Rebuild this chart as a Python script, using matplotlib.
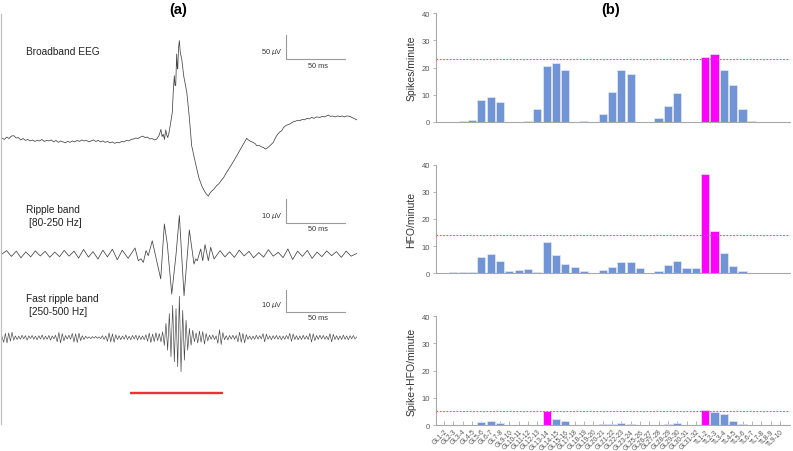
import numpy as np
import matplotlib
matplotlib.use("Agg")
import matplotlib.pyplot as plt

plt.rcParams['font.family'] = ['Liberation Sans', 'DejaVu Sans']
plt.rcParams['mathtext.fontset'] = 'dejavusans'

# ---------------- panel (a): example traces ----------------
# broadband EEG, time (ms) / amplitude (uV)
bb_t = [0, 2, 4, 6, 8, 10, 12, 14, 16, 18, 20, 22, 24, 26, 28, 30, 32, 34, 36, 38,
        40, 42, 44, 46, 48, 50, 52, 54, 56, 58, 60, 62, 64, 66, 68, 70, 72, 74, 76, 78,
        80, 82, 84, 86, 88, 90, 92, 94, 96, 98, 100, 102, 104, 106, 108, 110, 112, 114,
        116, 118, 120, 122, 124, 126, 128, 130, 132, 134, 135.5, 136.5, 137.5, 138.5,
        139.6, 140.5, 141.3, 142.3, 143.2, 144.2, 145.2, 146, 146.9, 147.5, 148.1, 148.9,
        149.4, 149.8, 150.5, 151.2, 152, 153.2, 155, 157.5, 159.5, 161.7, 164, 166, 168,
        170.2, 172, 174, 175.9, 177.5, 179, 180.5, 182, 183, 185, 187, 189, 191.6, 194,
        196, 198, 200.1, 202, 204, 206, 208.6, 210, 212, 214, 216, 217.1, 219, 221, 223,
        224.8, 226.5, 228, 230, 231.3, 233, 235, 237, 238.4, 240, 242, 244, 246, 248.3,
        250, 252, 254, 256, 258, 259.8, 262, 264, 266, 268, 271.1, 273, 275, 278.2, 280,
        282, 284, 286, 288.2, 290, 292, 294, 296.7, 299, 302.4]
bb_v = [2, -1, 4, 1, 6, 7, 2, 3, -2, 1, -3, -1, -4, -2, -5, -3, -4, -1, -5, -3,
        -4, -2, -6, -3, -7, -4, -6, -8, -5, -7, -4, -6, -3, -5, -2, -4, -3, -6, -4, -2,
        -5, -3, -6, -4, -7, -5, -8, -6, -9, -7, -8, -5, -6, -3, -4, -1, 0, 2,
        1, 4, 6, 3, 4, 0, 1, -2, 0, 8, 20, 5, 10, -1,
        19, 8, 3, 12, 25, 40, 56, 98, 132, 112, 111, 177,
        150, 146, 190, 205, 180, 167, 130, 98, 50, -14, -40, -62, -82,
        -97, -106, -114, -119, -112, -108, -105, -100, -97, -93, -86, -80, -69, -60,
        -52, -44, -35, -27, -18, -10, 1.5, -2, -5, -7, -10, -14, -13, -16, -18,
        -21, -18, -15, -10, -7, 2, 10, 15, 17, 24, 28, 30, 32, 36,
        37, 39, 38, 41, 40, 43, 42, 45, 43, 46, 45, 47, 46, 50, 47,
        48, 46, 48, 46.5, 48, 46, 48, 47, 44, 40]

# ripple band (80-250 Hz), turning points, time (ms) / amplitude (uV)
rp_t = [0, 3.9, 8.0, 12.2, 16.1, 20.3, 24.5, 28.4, 32.6, 36.8, 40.7, 44.9, 49.1, 53.0,
        57.2, 61.4, 65.3, 69.5, 73.7, 77.6, 81.8, 86.0, 89.9, 94.1, 98.3, 102.5, 107.5,
        113.4, 116.2, 118.5, 120.5, 122.8, 124.7, 128.1, 135.3, 138.4, 140.9, 144.7,
        148.4, 151.2, 155.2, 159.7, 163.7, 165.2, 166.5, 169.4, 171.1, 173.1, 175.9,
        177.9, 180.8, 185.9, 190.0, 194.0, 198.1, 202.3, 206.4, 210.6, 214.5, 218.9,
        223.0, 227.1, 231.2, 235.5, 239.6, 243.7, 247.8, 252.0, 256.1, 260.3, 264.4,
        268.6, 272.7, 276.8, 281.0, 285.1, 289.3, 293.4, 297.6, 302.4]
rp_v = [0, 1.4, -1.0, 1.2, -1.6, 0.9, -1.2, 1.3, -0.8, 1.1, -1.4, 0.8, -1.1, 1.5,
        -0.9, 1.2, -1.7, 1.9, -1.3, 1.0, -2.1, 1.6, -1.2, 2.0, -2.4, 1.6, -1.8,
        2.5, -2.8, -2.0, -3.5, 1.4, -0.7, 5.5, -10.4, 12.5, 4.2, -16.7,
        0.0, 16.0, -17.4, 10.0, -4.2, -2.0, -2.8, 2.1, -2.8, 3.9, -2.8,
        2.8, -2.1, 1.4, -1.2, 0.9, -1.4, 1.6, -0.8, 1.1, -1.6, 0.6,
        -1.3, 1.8, -0.9, 0.7, -1.5, 2.1, -2.3, 1.2, -1.0, 1.5, -1.8,
        0.8, -1.1, 1.3, -0.7, 1.0, -1.4, 1.2, -0.9, 0.2]

# fast ripple band (250-500 Hz), one value per half cycle (uV)
fr_v = [0.4, -2.1, 1.8, -2.4, 2.0, -1.6, 2.3, -1.2,
        0.7, -0.9, 0.6, -0.8, 1.0, -0.6, 0.8, -1.1, 0.7, -0.5, 0.9, -0.8, 0.6, -1.0,
        0.8, -0.7, 1.1, -0.9, 0.6, -0.8, 0.9, -1.2, 0.7, -0.6, 1.0,
        -1.9, 2.2, -2.4, 1.7, -1.5,
        0.9, -0.7, 1.0, -0.8,
        1.8, -2.0, 1.6, -2.2, 1.9, -1.4,
        0.8, -0.9, 0.6,
        -0.4, 0.3, -0.5, 0.4, -0.3, 0.5, -0.4, 0.3, -0.5,
        0.8, -0.9, 0.7,
        -1.7, 2.0, -1.9, 1.6, -2.1, 1.2,
        -0.9, 0.8, -1.0, 0.7, -0.8, 1.1, -0.9, 0.6, -1.0, 0.9, -0.7, 1.0, -1.1, 0.8,
        -0.9, 0.7, -1.0, 1.2,
        -1.6, 1.9, -2.2, 1.5, -1.8, 2.1, -1.4, 1.7, -1.9,
        2.5, -3.5, 6.2, -5.6, 10.6, -8.5, 14.2, -10.7, 12.8, -12.9, 18.2, -15.1,
        12.0, -10.0, 7.6, -5.6, 4.0, -3.4, 3.2, -1.9, 2.0,
        -2.4, 2.8, -2.1, 2.6, -2.9, 1.8, -1.5,
        1.0, -0.8, 1.1, -0.9, 0.7,
        -2.6, 3.4, -3.1, 2.2,
        -1.0, 0.8, -1.1, 0.9, -0.7, 1.0, -0.8, 0.9,
        -1.9, 2.3, -2.1, 1.8, -2.4, 1.3,
        -0.8, 0.7, -0.9, 0.6, -0.8, 1.0, -0.7, 0.8, -0.6,
        1.7, -1.9, 1.5,
        -0.8, 0.7, -1.0, 0.8, -0.6, 0.9, -0.8, 0.7, -1.0, 0.6, -0.8, 0.9, -0.7,
        1.8, -1.7, 1.5,
        -0.9, 0.8, -1.0, 0.7, -0.9, 1.0, -0.8, 0.7, -0.9,
        1.8, -2.0, 1.6, -1.4,
        0.9, -0.8, 1.0, -0.7, 0.9, -0.8, 0.6, -1.0,
        1.7, -1.9, 1.4,
        -0.9, 0.8, -1.0, 0.7, -0.9, 1.1, -0.8, 0.7, -1.0, 0.8, -0.6, 0.9, -0.7, 0.3]
fr_dt = 302.4 / (len(fr_v) - 1)   # ms per half cycle
fr_t = np.arange(len(fr_v)) * fr_dt

hfo_window = (108.9, 188.4)   # ms, red bar

# ---------------- panel (b): rates per channel ----------------
channels = ['GL1-2', 'GL2-3', 'GL3-4', 'GL4-5', 'GL5-6', 'GL6-7', 'GL7-8', 'GL9-10',
            'GL10-11', 'GL11-12', 'GL12-13', 'GL13-14', 'GL14-15', 'GL15-16',
            'GL17-18', 'GL18-19', 'GL19-20', 'GL20-21', 'GL21-22', 'GL22-23',
            'GL23-24', 'GL25-26', 'GL26-27', 'GL27-28', 'GL28-29', 'GL29-30',
            'GL30-31', 'GL31-32', 'TL1-2', 'TL2-3', 'TL3-4', 'TL4-5', 'TL5-6',
            'TL6-7', 'TL7-8', 'TL8-9', 'TL9-10']
spikes = [0, 0, 0.2, 0.7, 8.0, 9.3, 7.3, 0, 0, 0.3, 4.6, 20.5, 21.6, 19.3, 0, 0.5,
          0, 2.8, 11.1, 19.0, 17.6, 0, 0, 1.6, 5.9, 10.8, 0, 0, 24.0, 25.0, 19.0,
          13.7, 4.9, 0.2, 0.1, 0.1, 0.1]
hfo = [0.1, 0.5, 0.6, 0.5, 5.9, 7.0, 4.5, 0.9, 1.2, 1.5, 0.6, 11.5, 6.6, 3.4, 2.5,
       1.0, 0.2, 1.3, 2.2, 4.2, 4.0, 2.0, 0.2, 0.9, 3.1, 4.4, 2.0, 2.0, 36.4, 15.6,
       7.5, 2.7, 0.9, 0, 0, 0, 0]
spike_hfo = [0, 0, 0, 0, 1.0, 1.5, 0.7, 0, 0, 0, 0, 5.3, 2.1, 1.5, 0, 0, 0, 0.2,
             0.2, 0.6, 0.5, 0, 0, 0, 0.4, 0.9, 0, 0, 5.5, 4.7, 3.9, 1.6, 0.2, 0, 0,
             0, 0]
thresholds = [23.0, 14.0, 5.0]
highlight = [[28, 29], [28, 29], [11, 28]]

fig = plt.figure(figsize=(7.93, 4.52), dpi=100)

# ---- (a)
ax = fig.add_axes([0, 0, 395 / 793, 1])
px_per_ms = 1.173
ax.set_xlim(-2 / px_per_ms, 393 / px_per_ms)
ax.set_ylim(452, 0)
ax.axis('off')

trace_col = '#444444'
traces = [(bb_t, bb_v, 140, 0.48, 0.55), (rp_t, rp_v, 255, 2.4, 0.55),
          (fr_t, fr_v, 338.5, 2.27, 0.45)]
for t, v, base, gain, lw in traces:
    ax.plot(t, base - gain * np.asarray(v), color=trace_col, lw=lw)

ax.plot([-0.5, -0.5], [15, 425], color='#c0c0c0', lw=0.9)
ax.plot(hfo_window, [393.7, 393.7], color='#ee3030', lw=1.7, solid_capstyle='butt')

bar_t0 = (286 - 2) / px_per_ms
bars = [(60, 50, 0.48, '50 $\\mu$V', 52, 66), (224.3, 10, 2.4, '10 $\\mu$V', 216.5, 230),
        (313.3, 10, 2.27, '10 $\\mu$V', 305, 319)]
for yb, amp, gain, lab, ylab, yms in bars:
    ax.plot([bar_t0, bar_t0, bar_t0 + 50], [yb - amp * gain, yb, yb],
            color='#9a9a9a', lw=0.8)
    ax.text(bar_t0 - 3, ylab, lab, ha='right', va='center', fontsize=5.3, color='#333333')
    ax.text(bar_t0 + 27, yms, '50 ms', ha='center', va='center', fontsize=5.3,
            color='#333333')

labels_a = [(26, 52, 'Broadband EEG'), (26, 210, 'Ripple band'), (28.7, 222.7, '[80-250 Hz]'),
            (26, 299, 'Fast ripple band'), (28.7, 311.7, '[250-500 Hz]')]
for x, y, s in labels_a:
    ax.text((x - 2) / px_per_ms, y, s, ha='left', va='center', fontsize=7.3, color='#222222')

fig.text(178 / 793, 1 - 10 / 452, '(a)', ha='center', va='center', fontsize=10.5,
         fontweight='bold')
fig.text(611 / 793, 1 - 10 / 452, '(b)', ha='center', va='center', fontsize=10.5,
         fontweight='bold')

# ---- (b)
x = np.arange(len(channels))
series = [spikes, hfo, spike_hfo]
ylabels = ['Spikes/minute', 'HFO/minute', 'Spike+HFO/minute']
bottoms = [0.7279, 0.3931, 0.0575]
for i in range(3):
    axb = fig.add_axes([0.5494, bottoms[i], 0.4468, 0.2405])
    cols = ['#ff00ff' if j in highlight[i] else '#7094d6' for j in x]
    axb.bar(x, series[i], width=0.88, color=cols, edgecolor='#e4e9f4', linewidth=0.5,
            zorder=2)
    axb.axhline(thresholds[i], color='#ff4a4a', lw=0.8, ls=(0, (1.5, 1.5)), zorder=3)
    axb.set_xlim(-0.89, 37.08)
    axb.set_ylim(0, 40)
    axb.set_yticks([0, 10, 20, 30, 40])
    for s in ['top', 'right']:
        axb.spines[s].set_visible(False)
    for s in ['left', 'bottom']:
        axb.spines[s].set_color('#a8a8a8')
        axb.spines[s].set_linewidth(0.8)
    axb.tick_params(axis='y', length=2.5, width=0.6, color='#a8a8a8', labelsize=5.5,
                    labelcolor='#555555', pad=1.5)
    axb.set_ylabel(ylabels[i], fontsize=7.5, color='#333333')
    axb.yaxis.set_label_coords(-0.054, 0.5)
    if i < 2:
        axb.set_xticks([])
    else:
        axb.set_xticks(x)
        axb.set_xticklabels(channels, rotation=45, ha='right', rotation_mode='anchor',
                            fontsize=4.8, color='#555555')
        axb.tick_params(axis='x', direction='in', length=3, width=0.6, color='#a8a8a8',
                        pad=2)

fig.savefig('out.png', dpi=100)
